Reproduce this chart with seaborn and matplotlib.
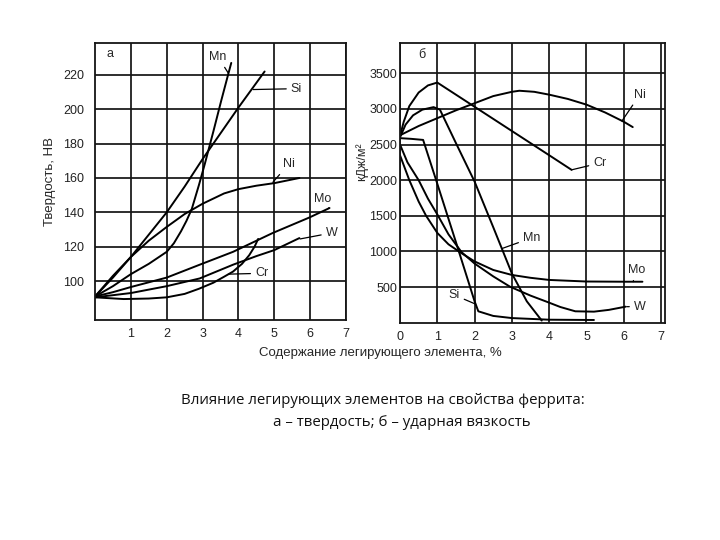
import matplotlib
matplotlib.use("Agg")
import matplotlib.pyplot as plt
import pandas as pd
import seaborn as sns

# --- панель а: твердость феррита, НВ ---
MN_A_X = [0, 0.5, 1.0, 1.5, 2.0, 2.2, 2.4, 2.55, 2.7, 2.8, 2.9, 3.06, 3.3, 3.52, 3.71, 3.8]
MN_A_Y = [91, 97, 104, 110, 117, 122, 129, 135, 142, 149, 156, 168, 187, 205, 220, 227]
SI_A_X = [0, 0.5, 1.0, 1.5, 2.0, 2.5, 3.0, 3.5, 4.0, 4.73]
SI_A_Y = [91, 102, 114, 127, 140, 155, 171, 186, 201, 222]
NI_A_X = [0, 0.5, 1.0, 1.5, 2.0, 2.5, 3.0, 3.6, 4.0, 4.5, 5.0, 5.7]
NI_A_Y = [91, 103, 114, 123.5, 131.5, 139, 145, 151, 153.5, 155.5, 157, 160]
MO_A_X = [0, 0.5, 1.0, 2.0, 2.92, 3.85, 4.96, 5.98, 6.54]
MO_A_Y = [91, 93.5, 96.5, 102, 109.5, 117, 128, 137, 142.5]
W_A_X = [0, 1.0, 2.0, 2.92, 3.85, 4.5, 5.0, 5.7]
W_A_Y = [90.5, 93, 97, 101.5, 109.5, 114.5, 118, 125]
CR_A_X = [0, 0.8, 1.5, 2.0, 2.5, 2.9, 3.3, 3.6, 3.85, 4.1, 4.3, 4.45, 4.55]
CR_A_Y = [90.5, 89.5, 89.8, 90.5, 92.5, 95.5, 99, 102.5, 105.5, 110, 115, 120, 124.5]

# --- панель б: ударная вязкость, кДж/м2 ---
NI_B_X = [0, 0.5, 1.0, 1.5, 2.0, 2.5, 3.0, 3.2, 3.6, 4.0, 4.5, 5.0, 5.5, 6.0, 6.24]
NI_B_Y = [2630, 2760, 2870, 2980, 3080, 3180, 3240, 3255, 3240, 3200, 3140, 3060, 2950, 2820, 2745]
CR_B_X = [0, 0.1, 0.25, 0.5, 0.75, 1.0, 2.0, 3.0, 4.0, 4.6]
CR_B_Y = [2620, 2820, 3040, 3230, 3330, 3370, 3030, 2690, 2350, 2145]
MN_B_X = [0, 0.15, 0.35, 0.6, 0.9, 1.07, 1.5, 2.0, 2.5, 3.0, 3.4, 3.8]
MN_B_Y = [2600, 2780, 2910, 2990, 3025, 2990, 2520, 1980, 1340, 690, 300, 30]
SI_B_X = [0, 0.3, 0.62, 1.0, 1.5, 2.0, 2.1, 2.5, 3.0, 4.0, 5.2]
SI_B_Y = [2590, 2580, 2565, 1950, 1130, 300, 160, 95, 65, 42, 38]
MO_B_X = [0, 0.25, 0.5, 0.7, 1.0, 1.3, 1.62, 2.0, 2.5, 3.0, 3.5, 4.0, 5.0, 6.0, 6.5]
MO_B_Y = [2350, 2000, 1700, 1500, 1260, 1100, 985, 860, 740, 670, 630, 600, 578, 575, 575]
W_B_X = [0, 0.2, 0.5, 0.75, 1.0, 1.3, 1.65, 2.0, 2.5, 2.95, 3.5, 3.93, 4.3, 4.7, 5.2, 5.6, 6.05]
W_B_Y = [2500, 2250, 2000, 1740, 1520, 1240, 990, 830, 650, 505, 380, 295, 220, 160, 155, 180, 225]

A_XTICKS = [1, 2, 3, 4, 5, 6, 7]
A_YTICKS = [100, 120, 140, 160, 180, 200, 220]
B_XTICKS = [0, 1, 2, 3, 4, 5, 6, 7]
B_YTICKS = [500, 1000, 1500, 2000, 2500, 3000, 3500]

CAPTION_1 = "Влияние легирующих элементов на свойства феррита:"
CAPTION_2 = "а – твердость; б – ударная вязкость"


def to_frame(curves):
    rows = []
    for name, xs, ys in curves:
        for x, y in zip(xs, ys):
            rows.append({"element": name, "x": x, "y": y})
    return pd.DataFrame(rows)


df_a = to_frame([("Mn", MN_A_X, MN_A_Y), ("Si", SI_A_X, SI_A_Y), ("Ni", NI_A_X, NI_A_Y),
                 ("Mo", MO_A_X, MO_A_Y), ("W", W_A_X, W_A_Y), ("Cr", CR_A_X, CR_A_Y)])
df_b = to_frame([("Ni", NI_B_X, NI_B_Y), ("Cr", CR_B_X, CR_B_Y), ("Mn", MN_B_X, MN_B_Y),
                 ("Si", SI_B_X, SI_B_Y), ("Mo", MO_B_X, MO_B_Y), ("W", W_B_X, W_B_Y)])

sns.set_theme(style="white")
plt.rcParams["font.family"] = ["Liberation Sans", "DejaVu Sans"]

fig = plt.figure(figsize=(7.2, 5.4), dpi=100)
ax_a = fig.add_axes([95 / 720, 1 - 320 / 540, 251 / 720, 277 / 540])
ax_b = fig.add_axes([400 / 720, 1 - 322.7 / 540, 265 / 720, 279.7 / 540])


def style_axes(ax, xticks, yticks, ypad):
    ax.set_xticks(xticks)
    ax.set_yticks(yticks)
    ax.grid(True, color="#151515", lw=1.25)
    ax.set_axisbelow(True)
    for s in ax.spines.values():
        s.set_color("#151515")
        s.set_linewidth(1.3)
    ax.tick_params(length=0, labelsize=9, colors="#222222")
    ax.tick_params(axis="x", pad=6)
    ax.tick_params(axis="y", pad=ypad)
    ax.set_xlabel("")
    ax.set_ylabel("")


for ax, df in ((ax_a, df_a), (ax_b, df_b)):
    sns.lineplot(data=df, x="x", y="y", units="element", estimator=None, sort=False,
                 color="black", lw=1.4, ax=ax)

ax_a.set_xlim(0, 7)
ax_a.set_ylim(77.3, 238.6)
style_axes(ax_a, A_XTICKS, A_YTICKS, 8)
ax_b.set_xlim(0, 7.105)
ax_b.set_ylim(0, 3925)
style_axes(ax_b, B_XTICKS, B_YTICKS, 2)

# подписи кривых с выносками
lead = dict(arrowstyle="-", color="black", lw=0.9, shrinkA=1, shrinkB=0)
labels_a = [("Mn", (3.72, 221), (3.43, 230.5)), ("Si", (4.41, 211.5), (5.62, 212)),
            ("Ni", (4.96, 157.5), (5.4, 168)), ("Mo", (6.52, 142.5), (6.35, 148)),
            ("W", (5.72, 124.5), (6.6, 128)), ("Cr", (3.72, 104), (4.65, 104.5))]
labels_b = [("Ni", (5.95, 2830), (6.43, 3200)), ("Cr", (4.6, 2145), (5.36, 2240)),
            ("Mn", (2.73, 1040), (3.53, 1190)), ("Mo", (6.25, 575), (6.35, 740)),
            ("W", (6.08, 225), (6.43, 225)), ("Si", (2.03, 260), (1.45, 390))]
for ax, labels in ((ax_a, labels_a), (ax_b, labels_b)):
    for name, xy, xytext in labels:
        ax.annotate(name, xy=xy, xytext=xytext, fontsize=9, ha="center", va="center",
                    arrowprops=lead)

ax_a.text(0.42, 232, "а", fontsize=9, ha="center", va="center")
ax_b.text(0.58, 3757, "б", fontsize=9, ha="center", va="center")

fig.text(50 / 720, 1 - 182 / 540, "Твердость, НВ", rotation=90, fontsize=9.5,
         ha="center", va="center")
fig.text(362 / 720, 1 - 162 / 540, "кДж/м²", rotation=90, fontsize=9,
         ha="center", va="center")
fig.text(380 / 720, 1 - 353 / 540, "Содержание легирующего элемента, %", fontsize=9.5,
         ha="center", va="center")

fig.text(383 / 720, 1 - 400 / 540, CAPTION_1, fontsize=10.8, ha="center", va="center",
         family=["Open Sans", "DejaVu Sans"], color="#111111")
fig.text(402 / 720, 1 - 423 / 540, CAPTION_2, fontsize=10.8, ha="center", va="center",
         family=["Open Sans", "DejaVu Sans"], color="#111111")

fig.savefig("out.png", dpi=100)
